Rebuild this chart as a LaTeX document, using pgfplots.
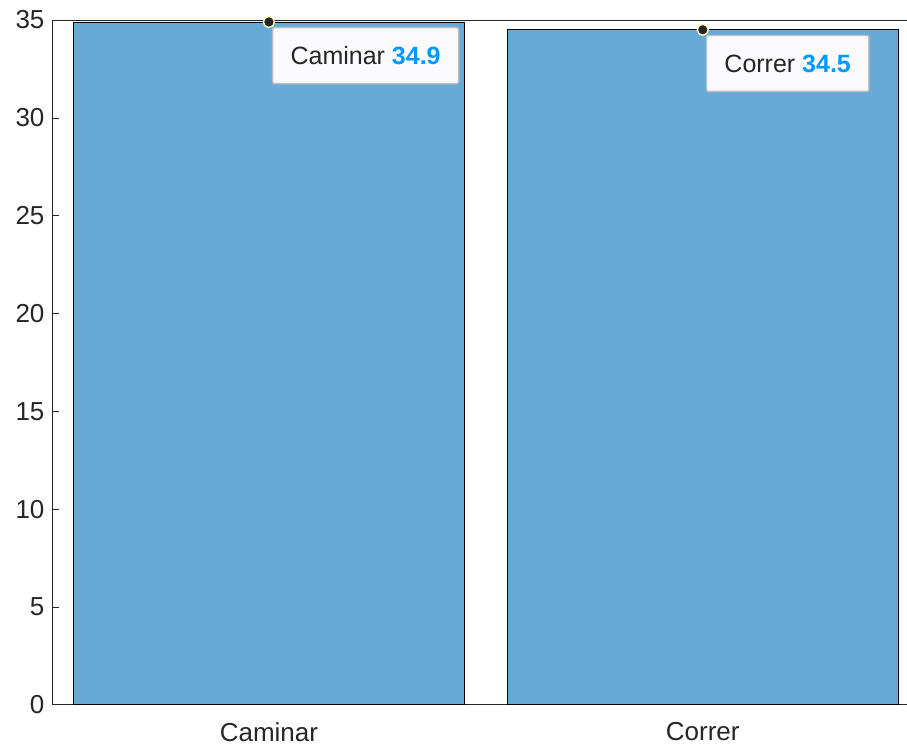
\documentclass[border=0pt]{standalone}
\usepackage{pgfplots}
\pgfplotsset{compat=1.18}
\usepackage{fontspec}
\setmainfont{Liberation Sans}
\definecolor{barblue}{RGB}{102,170,215}
\definecolor{axiscol}{RGB}{38,38,38}
\definecolor{tipblue}{RGB}{0,153,255}
\definecolor{tipfill}{RGB}{250,250,255}
\begin{document}
\begin{tikzpicture}
\begin{axis}[
    scale only axis,
    width=855pt, height=685pt,
    xmin=0.5, xmax=2.47,
    ymin=0, ymax=35,
    axis x line*=bottom, axis y line*=left,
    axis line style={axiscol, line width=0.6pt},
    xtick={1,2}, xticklabels={Caminar,Correr},
    ytick={0,5,...,35},
    tick align=inside, tick pos=left,
    major tick length=7pt,
    tick style={axiscol, line width=0.6pt},
    ticklabel style={font=\fontsize{26}{30}\selectfont, text=axiscol},
    /pgf/number format/assume math mode=true,
    yticklabel style={xshift=-4pt},
    xticklabel style={yshift=-14pt},
    clip=false,
]
\addplot[ybar, bar width=0.9, fill=barblue, draw=black, line width=0.6pt]
    coordinates {(1,34.9) (2,34.5)};
\draw[axiscol, line width=0.6pt] (rel axis cs:0,1) -- (rel axis cs:1,1);
\addplot[only marks, mark=*, mark size=5.5pt,
    mark options={fill=black!85, draw=yellow!25, line width=1.4pt},
    point meta=explicit symbolic,
    nodes near coords={\pgfplotspointmeta\ \textcolor{tipblue}{\bfseries\pgfmathprintnumber[fixed,precision=1,fixed zerofill]{\pgfkeysvalueof{/data point/y}}}},
    every node near coord/.style={anchor=north west, xshift=3pt, yshift=-5pt,
        fill=tipfill, draw=black!25, rounded corners=2pt, text=axiscol,
        font=\fontsize{25}{30}\selectfont, inner xsep=18pt, minimum height=56pt}]
    coordinates {(1,34.9) [Caminar] (2,34.5) [Correr]};
\end{axis}
\path (current axis.south west) ++(-52pt,-41pt);
\path (current axis.north west) ++(0,20pt);
\end{tikzpicture}
\end{document}
